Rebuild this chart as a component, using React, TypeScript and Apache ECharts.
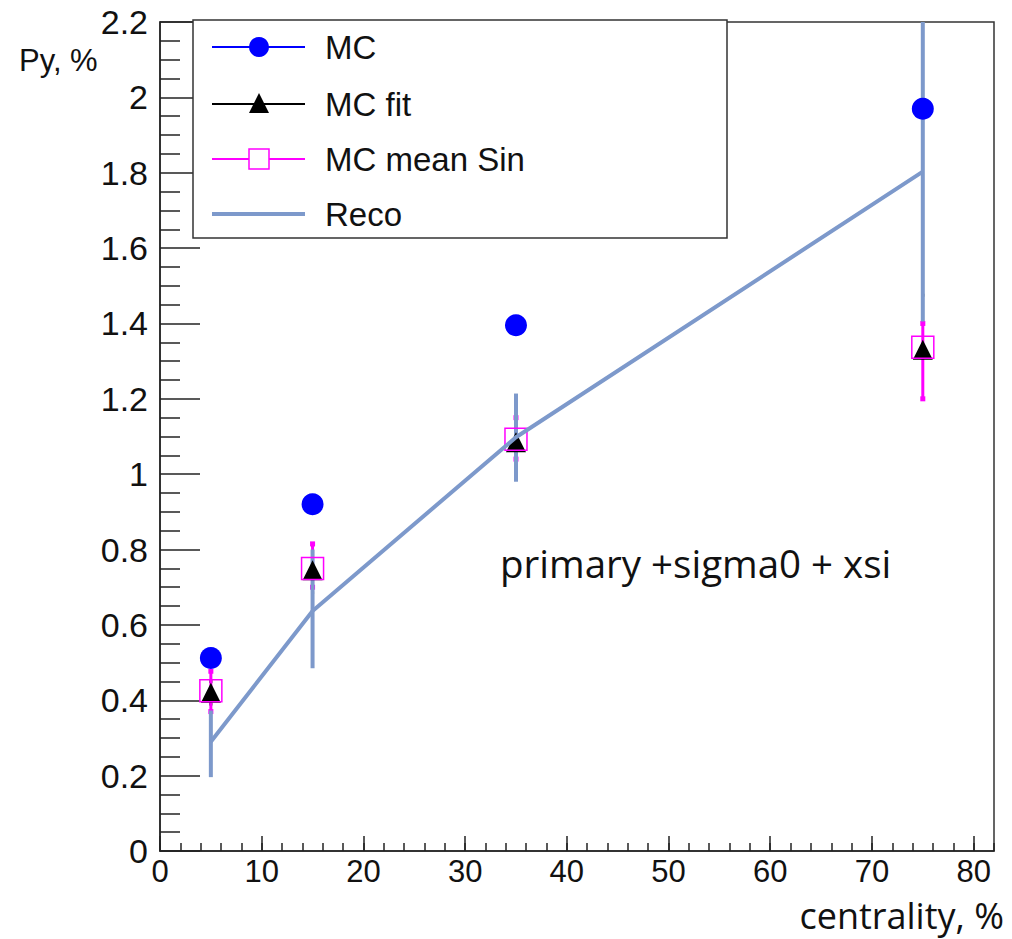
import React, { useEffect, useRef } from "react";
import * as echarts from "echarts";

// ---- data ----
const centrality = [5, 15, 35, 75];
const mcValues = [0.512, 0.92, 1.395, 1.97];
const fitValues = [0.42, 0.745, 1.085, 1.33];
const fitLow = [0.39, 0.685, 1.033, 1.2];
const fitHigh = [0.45, 0.81, 1.15, 1.475];
const sinValues = [0.425, 0.75, 1.093, 1.337];
const sinLow = [0.37, 0.7, 1.04, 1.2];
const sinHigh = [0.477, 0.815, 1.15, 1.4];
const recoValues = [0.29, 0.637, 1.098, 1.803];
const recoLow = [0.196, 0.485, 0.98, 1.405];
const recoHigh = [0.373, 0.8, 1.214, 2.4];

const legendLabels = ["MC", "MC fit", "MC mean Sin", "Reco"];
const xTitle = "centrality, %";
const yTitle = "Py, %";
const note = "primary +sigma0 + xsi";

const BLUE = "#0000ff";
const BLACK = "#000000";
const MAGENTA = "#ff00ff";
const RECO = "#7d99cb";
const SANS = "'Liberation Sans', Arial, Helvetica, sans-serif";
const CAL = "'Open Sans', 'Noto Sans', sans-serif";

function pairs(xs: number[], ys: number[]) {
  return xs.map((x, i) => [x, ys[i]]);
}

function errSeries(
  name: string,
  lo: number[],
  hi: number[],
  color: string,
  width: number,
  cap: number
) {
  return {
    type: "custom",
    name,
    silent: true,
    xAxisIndex: 0,
    yAxisIndex: 0,
    data: centrality.map((x, i) => [x, lo[i], hi[i]]),
    encode: { x: 0, y: [1, 2] },
    renderItem: (params: any, api: any) => {
      const x = api.value(0);
      const p1 = api.coord([x, api.value(1)]);
      const p2 = api.coord([x, api.value(2)]);
      const cs = params.coordSys;
      const top = Math.max(p2[1], cs.y);
      const bottom = Math.min(p1[1], cs.y + cs.height);
      const children: any[] = [
        {
          type: "line",
          shape: { x1: p1[0], y1: bottom, x2: p1[0], y2: top },
          style: { stroke: color, lineWidth: width },
        },
      ];
      if (cap > 0) {
        children.push({
          type: "rect",
          shape: { x: p1[0] - cap / 2, y: bottom - cap / 2, width: cap, height: cap },
          style: { fill: color },
        });
        if (p2[1] >= cs.y) {
          children.push({
            type: "rect",
            shape: { x: p2[0] - cap / 2, y: top - cap / 2, width: cap, height: cap },
            style: { fill: color },
          });
        }
      }
      return { type: "group", children };
    },
  };
}

export default function App() {
  const ref = useRef<HTMLDivElement>(null);

  useEffect(() => {
    if (!ref.current) return;
    const chart = echarts.init(ref.current, null, { renderer: "svg" });

    const lx = 193, ly = 20, lw = 534, lh = 218;
    const rows = [47, 104, 159, 214];
    const mx = 259;
    const legend: any[] = [
      {
        type: "rect",
        shape: { x: lx, y: ly, width: lw, height: lh },
        style: { fill: "#ffffff", stroke: "#333333", lineWidth: 1.5 },
        z: 100,
      },
      { type: "line", shape: { x1: 212, y1: rows[0], x2: 305, y2: rows[0] }, style: { stroke: BLUE, lineWidth: 2 }, z: 101 },
      { type: "circle", shape: { cx: mx, cy: rows[0], r: 10 }, style: { fill: BLUE }, z: 102 },
      { type: "line", shape: { x1: 212, y1: rows[1], x2: 305, y2: rows[1] }, style: { stroke: BLACK, lineWidth: 2 }, z: 101 },
      {
        type: "polygon",
        shape: { points: [[mx, rows[1] - 11], [mx - 10, rows[1] + 9], [mx + 10, rows[1] + 9]] },
        style: { fill: BLACK },
        z: 102,
      },
      { type: "line", shape: { x1: 212, y1: rows[2], x2: 305, y2: rows[2] }, style: { stroke: MAGENTA, lineWidth: 2 }, z: 101 },
      {
        type: "rect",
        shape: { x: mx - 10, y: rows[2] - 10, width: 20, height: 20 },
        style: { fill: "#ffffff", stroke: MAGENTA, lineWidth: 1.5 },
        z: 102,
      },
      { type: "line", shape: { x1: 212, y1: rows[3], x2: 305, y2: rows[3] }, style: { stroke: RECO, lineWidth: 4 }, z: 101 },
      ...legendLabels.map((t, i) => ({
        type: "text",
        x: 325,
        y: rows[i],
        style: { text: t, font: `33px ${SANS}`, fill: "#111111", textVerticalAlign: "middle", textAlign: "left" },
        z: 103,
      })),
      {
        type: "text",
        x: 19,
        y: 60,
        style: { text: yTitle, font: `31px ${SANS}`, fill: "#111111", textVerticalAlign: "middle" },
        z: 103,
      },
      {
        type: "text",
        x: 1004,
        y: 915,
        style: {
          text: xTitle,
          font: `36px ${CAL}`,
          lineHeight: 36,
          fill: "#111111",
          textAlign: "right",
          textVerticalAlign: "middle",
        },
        z: 103,
      },
      {
        type: "text",
        x: 500,
        y: 563,
        style: { text: note, font: `38.5px ${CAL}`, fill: "#111111", textAlign: "left", textVerticalAlign: "middle" },
        z: 103,
      },
    ];

    const axisLine = { show: true, onZero: false, lineStyle: { color: "#222222", width: 1.5 } };

    chart.setOption({
      animation: false,
      backgroundColor: "#ffffff",
      grid: {
        left: 160,
        top: 22,
        width: 834,
        height: 829,
        show: true,
        borderColor: "#333333",
        borderWidth: 1.5,
        backgroundColor: "transparent",
        containLabel: false,
      },
      xAxis: [
        {
          type: "value",
          min: 0,
          max: 82,
          interval: 10,
          position: "bottom",
          axisLine,
          axisTick: { show: true, inside: true, length: 15, lineStyle: { color: "#222222", width: 1.5 } },
          minorTick: { show: false },
          splitLine: { show: false },
          axisLabel: {
            showMaxLabel: false,
            margin: 6,
            fontSize: 31,
            lineHeight: 28,
            fontFamily: SANS,
            color: "#111111",
            formatter: (v: number) => (v % 10 === 0 ? String(v) : ""),
          },
        },
        {
          type: "value",
          min: 0,
          max: 82,
          interval: 2,
          position: "bottom",
          offset: 0,
          axisLine: { show: false },
          axisTick: { show: true, inside: true, length: 8, lineStyle: { color: "#222222", width: 1.5 } },
          splitLine: { show: false },
          axisLabel: { show: false },
        },
      ],
      yAxis: {
        type: "value",
        min: 0,
        max: 2.2,
        interval: 0.2,
        position: "left",
        axisLine,
        axisTick: { show: true, inside: true, length: 40, lineStyle: { color: "#222222", width: 1.5 } },
        minorTick: { show: true, splitNumber: 4, length: 20, lineStyle: { color: "#222222", width: 1.5 } },
        splitLine: { show: false },
        axisLabel: {
          margin: 12,
          fontSize: 34,
          fontFamily: SANS,
          color: "#111111",
          formatter: (v: number) => String(Math.round(v * 10) / 10),
        },
      },
      series: [
        {
          type: "scatter",
          name: "MC",
          data: pairs(centrality, mcValues),
          symbol: "circle",
          symbolSize: 22,
          itemStyle: { color: BLUE, opacity: 1 },
          silent: true,
        },
        errSeries("MC fit err", fitLow, fitHigh, BLACK, 1, 3),
        {
          type: "scatter",
          name: "MC fit",
          data: pairs(centrality, fitValues),
          symbol: "triangle",
          symbolSize: [20, 20],
          itemStyle: { color: BLACK, opacity: 1 },
          silent: true,
        },
        errSeries("MC mean Sin err", sinLow, sinHigh, MAGENTA, 3, 5),
        {
          type: "scatter",
          name: "MC mean Sin",
          data: pairs(centrality, sinValues),
          symbol: "rect",
          symbolSize: 22,
          itemStyle: { color: "rgba(0,0,0,0)", borderColor: MAGENTA, borderWidth: 1.5, opacity: 1 },
          silent: true,
        },
        {
          type: "line",
          name: "Reco",
          data: pairs(centrality, recoValues),
          showSymbol: false,
          symbol: "none",
          lineStyle: { color: RECO, width: 4 },
          itemStyle: { color: RECO },
          silent: true,
        },
        errSeries("Reco err", recoLow, recoHigh, RECO, 4, 0),
      ],
      graphic: legend,
    });

    return () => chart.dispose();
  }, []);

  return (
    <div
      ref={ref}
      style={{ position: "fixed", left: 0, top: 0, width: 1012, height: 939, background: "#ffffff" }}
    />
  );
}
